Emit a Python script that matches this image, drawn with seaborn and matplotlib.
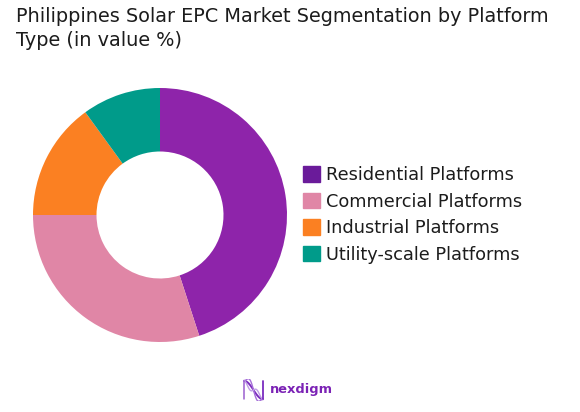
import matplotlib
matplotlib.use("Agg")
import matplotlib.pyplot as plt
import numpy as np
import seaborn as sns

platforms = ["Residential Platforms", "Commercial Platforms", "Industrial Platforms", "Utility-scale Platforms"]
shares = [45, 30, 15, 10]
colors = ["#8e24aa", "#e086a6", "#fb8022", "#009b8a"]
legend_colors = ["#6a1b9a", "#e086a6", "#fb8022", "#009b8a"]

sns.set_theme(style="white")
plt.rcParams["font.family"] = ["DejaVu Sans"]

W, H = 580, 412
fig = plt.figure(figsize=(W / 100, H / 100), dpi=100, facecolor="white")

# donut, position in pixels from the reference
ax = fig.add_axes([33 / W, (H - 342) / H, 254 / W, 254 / H])
wedges, _ = ax.pie(shares, colors=colors, startangle=90, counterclock=False, radius=1,
                   wedgeprops={"width": 0.5, "linewidth": 0})
ax.set_xlim(-1, 1)
ax.set_ylim(-1, 1)

fig.text(16 / W, 1 - 16 / H, "Philippines Solar EPC Market Segmentation by Platform", fontsize=13.9,
         color="#1c1c1c", va="center", ha="left")
fig.text(16 / W, 1 - 41 / H, "Type (in value %)", fontsize=13.9, color="#1c1c1c", va="center", ha="left")

# legend
handles = [plt.Rectangle((0, 0), 1, 1, color=c) for c in legend_colors]
leg = fig.legend(handles, platforms, loc="center left", bbox_to_anchor=(299 / W, 1 - 215 / H), frameon=False,
                 fontsize=12.8, labelcolor="#1c1c1c", handlelength=1.0, handleheight=0.95,
                 handletextpad=0.3, labelspacing=0.48, borderpad=0.2, borderaxespad=0)

# logo
logo = fig.add_axes([243 / W, (H - 401) / H, 21 / W, 22 / H])
t = np.linspace(0, 1, 100)
for shift, col, lw in [(0.0, "#7b2cbf", 1.4), (0.3, "#a56fd8", 1.0), (-0.3, "#c09ce6", 1.0)]:
    logo.plot(t, 0.5 + 0.42 * np.cos(np.pi * t) + shift * np.sin(np.pi * t) * np.sin(2 * np.pi * t), color=col, lw=lw)
logo.plot([0.02, 0.02], [0.1, 0.92], color="#9b5fd0", lw=1.1)
logo.plot([0.98, 0.98], [0.08, 0.9], color="#7b2cbf", lw=1.3)
logo.set_xlim(-0.05, 1.05)
logo.set_ylim(0, 1)
logo.axis("off")
fig.text(270 / W, 1 - 390 / H, "nexdigm", fontsize=9.4, fontweight="bold", color="#7b22b5", va="center", ha="left")

fig.savefig("out.png", dpi=100)
